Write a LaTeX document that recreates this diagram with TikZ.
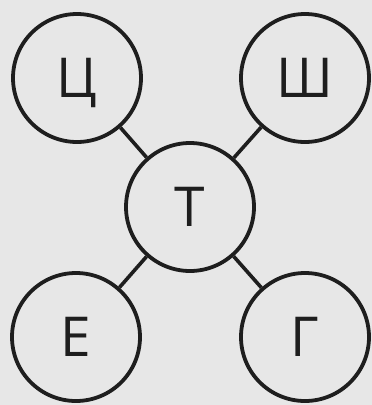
\documentclass[tikz,border=0pt]{standalone}
\usepackage{fontspec}
\setmainfont{Open Sans}
\definecolor{bg}{RGB}{231,231,231}
\definecolor{ink}{RGB}{30,30,30}
\begin{document}
\begin{tikzpicture}[x=1pt,y=-1pt,
  letter/.style={circle,draw=ink,line width=3.8pt,fill=bg,minimum size=128pt,inner sep=0pt,
    text=ink,font=\fontsize{55}{55}\selectfont,text height=39pt,text depth=0pt},
  link/.style={draw=ink,line width=3.6pt}]
\fill[bg] (0,0) rectangle (372,405);
\useasboundingbox (0,0) rectangle (372,405);
\node[letter] (c) at (77,78) {Ц};
\node[letter] (sh) at (305,78) {Ш};
\node[letter] (t) at (190,207) {Т};
\node[letter] (e) at (76,337) {Е};
\node[letter] (g) at (305,337) {Г};
\draw[link] (c) -- (t);
\draw[link] (sh) -- (t);
\draw[link] (e) -- (t);
\draw[link] (g) -- (t);
\end{tikzpicture}
\end{document}
